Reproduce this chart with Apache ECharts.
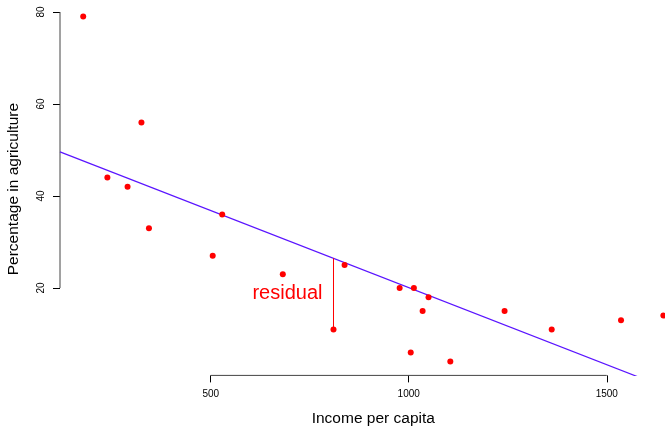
<!DOCTYPE html>
<html>
<head>
<meta charset="utf-8">
<title>Income per capita vs percentage in agriculture</title>
<script src="https://cdn.jsdelivr.net/npm/echarts@6/dist/echarts.min.js"></script>
<style>
  html, body { margin: 0; padding: 0; background: #ffffff; }
  #chart { width: 665px; height: 426px; }
</style>
</head>
<body>
<div id="chart"></div>
<script>
// Income per capita and share of the labour force in agriculture, one pair per country
const income      = [178, 239, 290, 325, 344, 505, 529, 682, 810, 838, 977, 1005, 1013, 1035, 1050, 1105, 1242, 1361, 1536, 1643];
const agriculture = [ 79,  44,  42,  56,  33,  27,  36,  23,  11,  25,  20,    6,   20,   15,   18,    4,   15,   11,   13,   14];

// Tick positions on each axis
const xTicks = [500, 1000, 1500];
const yTicks = [20, 40, 60, 80];

// The observation whose residual is drawn and labelled
const residualIndex = 8;

// Least-squares fit of agriculture on income
function leastSquares(xs, ys) {
  const n = xs.length;
  const mx = xs.reduce((a, b) => a + b, 0) / n;
  const my = ys.reduce((a, b) => a + b, 0) / n;
  let sxy = 0, sxx = 0;
  for (let i = 0; i < n; i++) {
    sxy += (xs[i] - mx) * (ys[i] - my);
    sxx += (xs[i] - mx) * (xs[i] - mx);
  }
  const slope = sxy / sxx;
  return { slope: slope, intercept: my - slope * mx };
}
const fit = leastSquares(income, agriculture);
const predict = x => fit.intercept + fit.slope * x;

// Axis ranges padded 4% beyond the data on each side
function padded(values) {
  const lo = Math.min.apply(null, values), hi = Math.max.apply(null, values);
  const pad = (hi - lo) * 0.04;
  return [lo - pad, hi + pad];
}
const xRange = padded(income);
const yRange = padded(agriculture);

const points = income.map((x, i) => [x, agriculture[i]]);
const rx = income[residualIndex];
const ry = agriculture[residualIndex];
const rFit = predict(rx);

const FONT = "'Liberation Sans', Arial, Helvetica, sans-serif";
const RED = '#ff0000';

const chart = echarts.init(document.getElementById('chart'), null, { renderer: 'canvas' });

chart.setOption({
  backgroundColor: '#ffffff',
  animation: false,
  grid: {
    left: 60, top: 2.8, width: 626.6, height: 372.6,
    outerBoundsMode: 'none',
    containLabel: false
  },
  xAxis: {
    type: 'value',
    min: xRange[0], max: xRange[1],
    name: 'Income per capita',
    nameLocation: 'middle',
    nameGap: 35,
    nameTextStyle: { fontFamily: FONT, fontSize: 15.5, color: '#000' },
    axisLine: { show: false },
    splitLine: { show: false },
    axisTick: {
      show: true, inside: false, length: 7,
      customValues: xTicks,
      lineStyle: { color: '#000', width: 1 }
    },
    axisLabel: {
      show: true, margin: 14,
      customValues: xTicks,
      formatter: v => String(v),
      fontFamily: FONT, fontSize: 10, color: '#000'
    }
  },
  yAxis: {
    type: 'value',
    min: yRange[0], max: yRange[1],
    name: 'Percentage in agriculture',
    nameLocation: 'middle',
    nameGap: 38,
    nameRotate: 90,
    nameTextStyle: { fontFamily: FONT, fontSize: 15.5, color: '#000' },
    axisLine: { show: false },
    splitLine: { show: false },
    axisTick: {
      show: true, inside: false, length: 7,
      customValues: yTicks,
      lineStyle: { color: '#000', width: 1 }
    },
    axisLabel: {
      show: true, margin: 14, rotate: 90,
      customValues: yTicks,
      formatter: v => String(v),
      fontFamily: FONT, fontSize: 10, color: '#000'
    }
  },
  series: [
    {
      // bottom axis line, spanning the first to the last tick
      type: 'line', silent: true, clip: false, symbol: 'none',
      data: [[xTicks[0], yRange[0]], [xTicks[xTicks.length - 1], yRange[0]]],
      color: '#444',
      lineStyle: { color: '#444', width: 1 }, z: 1
    },
    {
      // left axis line, spanning the first to the last tick
      type: 'line', silent: true, clip: false, symbol: 'none',
      data: [[xRange[0], yTicks[0]], [xRange[0], yTicks[yTicks.length - 1]]],
      color: '#444',
      lineStyle: { color: '#444', width: 1 }, z: 1
    },
    {
      // fitted regression line
      type: 'line', silent: true, clip: true, symbol: 'none',
      data: [[xRange[0], predict(xRange[0])], [xRange[1], predict(xRange[1])]],
      color: '#5a14ff',
      lineStyle: { color: '#5a14ff', width: 1.2 }, z: 2
    },
    {
      // residual: vertical gap between one observation and its fitted value, with its label
      type: 'custom', silent: true,
      data: [[rx, ry, rFit]],
      encode: { x: 0, y: [1, 2] },
      itemStyle: { color: RED },
      renderItem: function (params, api) {
        const p0 = api.coord([api.value(0), api.value(1)]);
        const p1 = api.coord([api.value(0), api.value(2)]);
        return {
          type: 'group',
          children: [
            {
              type: 'rect',
              shape: { x: p0[0] - 0.5, y: p1[1], width: 1, height: p0[1] - p1[1] },
              style: { fill: RED }
            },
            {
              type: 'text',
              x: p0[0] - 11,
              y: (p0[1] + p1[1]) / 2,
              style: {
                text: 'residual',
                fill: RED,
                font: '20px ' + FONT,
                align: 'right',
                verticalAlign: 'middle'
              }
            }
          ]
        };
      },
      z: 3
    },
    {
      // observations
      type: 'scatter', symbol: 'circle', symbolSize: 6,
      data: points,
      color: RED,
      itemStyle: { color: RED, opacity: 1 },
      z: 4
    }
  ]
});
</script>
</body>
</html>
